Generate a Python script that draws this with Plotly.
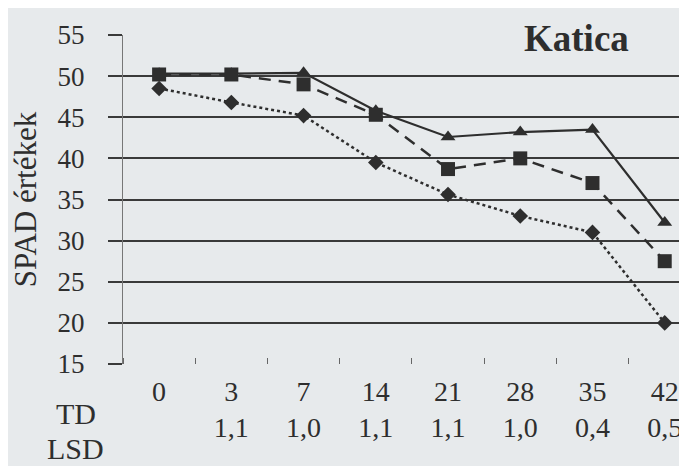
import plotly.graph_objects as go

days = ["0", "3", "7", "14", "21", "28", "35", "42"]
lsd = ["", "1,1", "1,0", "1,1", "1,1", "1,0", "0,4", "0,5"]
series_triangle = [50.3, 50.3, 50.4, 45.8, 42.6, 43.2, 43.5, 32.2]
series_square = [50.2, 50.2, 49.0, 45.3, 38.7, 40.0, 37.0, 27.5]
series_diamond = [48.5, 46.8, 45.2, 39.5, 35.6, 33.0, 31.0, 20.0]
y_ticks = [15, 20, 25, 30, 35, 40, 45, 50, 55]

BG = "#e7eaec"
INK = "#2e2e2e"
FONT = "Liberation Serif, Times New Roman, serif"

x = list(range(len(days)))
fig = go.Figure()
fig.add_trace(go.Scatter(x=x, y=series_diamond, mode="lines+markers",
                         line=dict(color=INK, width=2.5, dash="dot"),
                         marker=dict(symbol="diamond", size=12, color=INK),
                         showlegend=False))
fig.add_trace(go.Scatter(x=x, y=series_triangle, mode="lines+markers",
                         line=dict(color=INK, width=2.2),
                         marker=dict(symbol="triangle-up", size=13, color=INK),
                         showlegend=False))
fig.add_trace(go.Scatter(x=x, y=series_square, mode="lines+markers",
                         line=dict(color=INK, width=2.5, dash="12px,8px"),
                         marker=dict(symbol="square", size=14, color=INK),
                         showlegend=False))

ticktext = [f"{d}<br>{l if l else ' '}" for d, l in zip(days, lsd)]

fig.update_layout(
    width=687, height=466,
    margin=dict(l=115, r=5, t=27, b=110),
    paper_bgcolor=BG, plot_bgcolor=BG,
    font=dict(family=FONT, color=INK),
    xaxis=dict(range=[-0.5, 7.35], tickmode="array", tickvals=x, ticktext=ticktext,
               showgrid=False, zeroline=False, showline=False, automargin=False,
               ticklabelstandoff=8,
               minor=dict(tick0=0.5, dtick=1, ticks="inside", ticklen=6,
                          tickcolor="#666", tickwidth=1, showgrid=False),
               tickfont=dict(size=28, family=FONT, color=INK)),
    yaxis=dict(range=[15, 55], tickvals=y_ticks, showgrid=True, automargin=False,
               gridcolor="#3a3a3a", gridwidth=1.5, zeroline=False,
               showline=True, linecolor="#777", linewidth=1,
               ticks="outside", ticklen=14, tickcolor="#3a3a3a", tickwidth=1.5,
               ticklabelstandoff=18,
               tickfont=dict(size=27, family=FONT, color=INK),
               title=dict(text="SPAD értékek", font=dict(size=31, family=FONT, color=INK),
                          standoff=14)),
    annotations=[
        dict(text="<b>Katica</b>", xref="paper", yref="paper", x=0.80, y=0.99,
             xanchor="center", yanchor="middle",
             showarrow=False, font=dict(size=37, family=FONT, color=INK)),
        dict(text="TD", xref="paper", yref="paper", x=-0.083, y=-0.15,
             xanchor="center", yanchor="middle",
             showarrow=False, font=dict(size=30, family=FONT, color=INK)),
        dict(text="LSD", xref="paper", yref="paper", x=-0.083, y=-0.258,
             xanchor="center", yanchor="middle",
             showarrow=False, font=dict(size=30, family=FONT, color=INK)),
    ],
)

fig.write_html("out.html")
